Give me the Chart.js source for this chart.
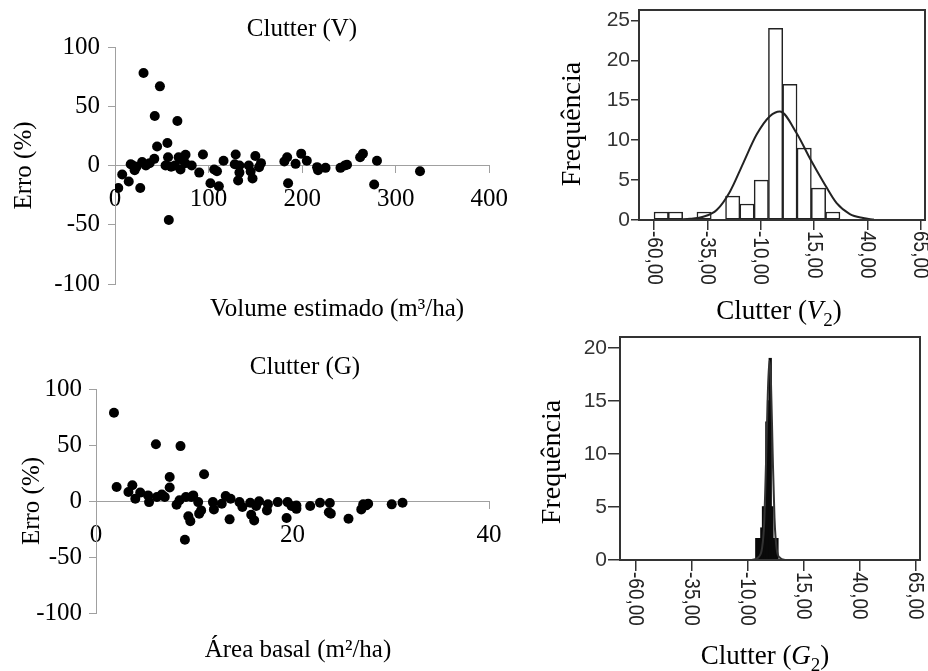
<!DOCTYPE html>
<html>
<head>
<meta charset="utf-8">
<script src="https://cdn.jsdelivr.net/npm/chart.js@4.4.1/dist/chart.umd.min.js"></script>
<style>
  html, body { margin: 0; padding: 0; background: #fff; }
  #wrap { position: relative; width: 928px; height: 671px; overflow: hidden; }
  canvas { position: absolute; }
</style>
</head>
<body>
<div id="wrap">
  <canvas id="scV" width="520" height="330" style="left:0;top:0"></canvas>
  <canvas id="scG" width="520" height="341" style="left:0;top:330px"></canvas>
  <canvas id="hiV" width="408" height="335" style="left:520px;top:0"></canvas>
  <canvas id="hiG" width="408" height="336" style="left:520px;top:335px"></canvas>
</div>
<script>
// Clutter (V): volume estimado x erro
const volEst = [3.5, 7.7, 14.7, 16.8, 19, 21, 23, 27, 30.5, 29, 33, 37, 42, 42.5, 45, 48, 54, 56, 56.7, 57.5,
  60, 64, 66.7, 68, 70, 71, 75.4, 75, 82, 90, 94, 102, 106, 109, 111, 116, 129, 128, 131.6, 133,
  133, 143, 145, 147, 150, 154, 156, 181, 184, 185, 193, 199, 205, 216, 217, 225, 241, 245.6, 248, 262,
  265, 277, 280, 326];
const erroV = [-19, -7.6, -13.5, 1, 0, -4, -1, -19, 78, 3, 0, 2, 5.6, 41.7, 16, 66.8, 0, 19, 7, -46,
  -1, 0, 37.5, 7, -3.4, 5, 9, 2, 0, -6, 9.3, -15, -3.4, -4.8, -17.5, 4, 9.3, 1, -12.7, 0,
  -6, 0, -5, -11, 8, -1.4, 2, 3.4, 7, -15, 1.4, 10, 4, -1.4, -4, -2, -2, 0, 0.6, 7,
  10, -16, 4, -4.8];

// Clutter (G): area basal x erro
const areaBasal = [1.83, 2.1, 3.3, 3.7, 4.0, 4.5, 5.3, 5.4, 6.1, 6.2, 6.7, 7.0, 7.5, 7.5, 8.2, 8.5, 8.6, 9.05, 9.15, 9.4,
  9.6, 9.7, 9.9, 10.4, 10.5, 10.7, 11.0, 11.9, 12.0, 12.8, 13.2, 13.6, 13.7, 14.6, 14.9, 15.7, 15.8, 16.1, 16.3, 16.6,
  17.4, 17.5, 18.5, 19.5, 19.4, 19.9, 20.4, 20.4, 21.8, 22.8, 23.7, 23.8, 23.9, 25.7, 27.0, 27.2, 27.5, 27.7, 30.1, 31.2];
const erroG = [78.8, 12.5, 8, 14, 2, 7.5, 5, -1, 50.7, 3.6, 5.7, 3.6, 21.5, 12, -3.3, 0.6, 49, -34.6, 3.6, -13.7,
  -18, 3.6, 5, -1, -11.3, -8.4, 23.9, -1, -7.5, -2.4, 4.5, -16.4, 2, -1, -5.4, -1.5, -12.2, -17.3, -4.5, -0.3,
  -8.4, -3, -1, -1, -15.2, -4.5, -7, -4, -4.5, -1.5, -10, -1.8, -11.3, -15.8, -7.5, -3, -3.9, -2.4, -3, -1.5];

// histograma V2 (centro da classe, frequencia) + curva normal
const classesV = [-56.6, -49.9, -43.2, -36.5, -29.8, -23.1, -16.4, -9.7, -3.0, 3.7, 10.4, 17.1, 23.8];
const freqV = [1, 1, 0, 1, 0, 3, 2, 5, 24, 17, 9, 4, 1];
const curveVx = [-48, -43, -36.9, -30.6, -24.4, -18.2, -11.9, -5.7, -1.0, 6.8, 13.1, 19.3, 25.6, 31.8, 38, 43];
const curveVy = [0.05, 0.15, 0.4, 1.25, 3.55, 7.1, 10.7, 13.0, 13.6, 10.9, 7.7, 4.8, 2.1, 0.75, 0.25, 0.05];

// histograma G2
const classesG = [-5.9, -5.15, -4.4, -3.65, -2.9, -2.15, -1.4, -0.65, 0.1, 0.85, 1.6, 2.35, 3.1];
const freqG = [2, 2, 2, 3, 5, 5, 13, 15, 19, 5, 2, 2, 2];
const curveGx = [-8, -5, -3.5, -2.6, -1.8, -1, -0.3, 0.4, 1.2, 2, 3, 4.5, 7];
const curveGy = [0, 0.3, 1.2, 3.5, 9, 15.5, 18.8, 17, 10, 4, 1, 0.2, 0];

const histTicks = [-60, -35, -10, 15, 40, 65];
const histTickLabels = ['-60,00', '-35,00', '-10,00', '15,00', '40,00', '65,00'];

const SERIF = "'Liberation Serif', 'Times New Roman', serif";
const SANS = "'Liberation Sans', Arial, sans-serif";
const AXIS = '#a0a0a0';

// textos soltos (titulos, eixos com italico/subscrito)
function notes(items) {
  return {
    id: 'notes',
    afterDraw(chart) {
      const ctx = chart.ctx;
      items.forEach(it => {
        const parts = it.parts || [{ t: it.text }];
        ctx.save();
        ctx.translate(it.x, it.y);
        if (it.rotate) ctx.rotate(it.rotate);
        ctx.fillStyle = '#000';
        ctx.textBaseline = 'alphabetic';
        const fonts = parts.map(p => (p.italic ? 'italic ' : '') + Math.round(p.sub ? it.size * 0.7 : it.size) + 'px ' + SERIF);
        const widths = parts.map((p, i) => { ctx.font = fonts[i]; return ctx.measureText(p.t).width; });
        let x = -widths.reduce((a, b) => a + b, 0) / 2;
        parts.forEach((p, i) => {
          ctx.font = fonts[i];
          ctx.fillText(p.t, x, it.size * 0.35 + (p.sub ? it.size * 0.25 : 0));
          x += widths[i];
        });
        ctx.restore();
      });
    }
  };
}

const frame = {
  id: 'frame',
  afterDatasetsDraw(chart) {
    const { ctx, chartArea: a } = chart;
    ctx.save();
    ctx.strokeStyle = '#333';
    ctx.lineWidth = 2;
    ctx.strokeRect(a.left, a.top, a.right - a.left, a.bottom - a.top);
    ctx.restore();
  }
};

// rotulos do eixo x girados 90 graus (leitura de cima para baixo)
function rotatedTicks(top) {
  return {
    id: 'rotatedTicks',
    afterDraw(chart) {
      const ctx = chart.ctx, sx = chart.scales.x;
      ctx.save();
      ctx.font = '19px ' + SANS;
      ctx.fillStyle = '#222';
      ctx.textBaseline = 'middle';
      ctx.textAlign = 'left';
      histTicks.forEach((v, i) => {
        ctx.save();
        ctx.translate(sx.getPixelForValue(v), top);
        ctx.rotate(Math.PI / 2);
        ctx.scale(1, 1.2); // o original esta esticado na horizontal
        ctx.fillText(histTickLabels[i], 0, 0);
        ctx.restore();
      });
      ctx.restore();
    }
  };
}

function scatter(id, o) {
  const font = { family: SERIF, size: 25 };
  new Chart(document.getElementById(id), {
    type: 'scatter',
    data: {
      datasets: [{
        data: o.xs.map((x, i) => ({ x, y: o.ys[i] })),
        backgroundColor: '#000',
        borderWidth: 0,
        pointRadius: 5
      }]
    },
    options: {
      responsive: false,
      animation: false,
      events: [],
      layout: { padding: o.padding },
      plugins: { legend: { display: false }, tooltip: { enabled: false } },
      scales: {
        x: {
          type: 'linear', position: { y: 0 }, min: 0, max: o.xMax,
          ticks: { stepSize: o.xStep, padding: o.xPad, maxRotation: 0, color: '#000', font },
          grid: { drawOnChartArea: false, tickLength: 7, color: AXIS },
          border: { color: AXIS }
        },
        y: {
          min: -100, max: 100,
          afterFit: s => { s.width = o.yWidth; s.paddingTop = 0; s.paddingBottom = 0; },
          ticks: { stepSize: 50, padding: o.yPad, color: '#000', font },
          grid: { drawOnChartArea: false, tickLength: 7, color: AXIS },
          border: { color: AXIS },
          title: { display: true, text: 'Erro (%)', color: '#000', font, padding: { top: o.titlePad, bottom: 0 } }
        }
      }
    },
    plugins: [notes(o.notes)]
  });
}

function histogram(id, o) {
  new Chart(document.getElementById(id), {
    type: 'bar',
    data: {
      datasets: [
        {
          type: 'line',
          data: o.curveX.map((x, i) => ({ x, y: o.curveY[i] })),
          borderColor: o.curveColor, borderWidth: 2, pointRadius: 0,
          cubicInterpolationMode: 'monotone', order: 0
        },
        {
          type: 'bar',
          data: o.classes.map((x, i) => ({ x, y: o.freq[i] })),
          backgroundColor: o.fill, borderColor: o.edge, borderWidth: o.edgeWidth,
          inflateAmount: o.inflate, borderSkipped: false,
          barPercentage: 1, categoryPercentage: 1, order: 1
        }
      ]
    },
    options: {
      responsive: false,
      animation: false,
      events: [],
      layout: { padding: o.padding },
      plugins: { legend: { display: false }, tooltip: { enabled: false } },
      scales: {
        x: {
          type: 'linear', min: -67, max: 67, offset: false,
          afterBuildTicks: s => { s.ticks = histTicks.map(v => ({ value: v })); },
          afterFit: s => { s.height = o.xHeight; s.paddingLeft = 0; s.paddingRight = 0; },
          ticks: { callback: () => '', autoSkip: false },
          grid: { offset: false, drawOnChartArea: false, tickLength: o.xTick, color: '#333', lineWidth: 1.5 },
          border: { display: false }
        },
        y: {
          min: 0, max: o.yMax,
          afterBuildTicks: s => { s.ticks = o.yTicks.map(v => ({ value: v })); },
          afterFit: s => { s.width = o.yWidth; s.paddingTop = 0; s.paddingBottom = 0; },
          ticks: { font: { family: SANS, size: 21 }, color: '#333', padding: 1 },
          grid: { drawOnChartArea: false, tickLength: o.yTick, color: '#333', lineWidth: 1.5 },
          border: { display: false }
        }
      }
    },
    plugins: [frame, rotatedTicks(o.labelTop), notes(o.notes)]
  });
}

scatter('scV', {
  xs: volEst, ys: erroV, xMax: 400, xStep: 100, xPad: 12,
  yWidth: 115, yPad: 8, titlePad: 9,
  padding: { left: 0, right: 25, top: 47, bottom: 46 },
  notes: [
    { text: 'Clutter (V)', x: 302, y: 27, size: 25 },
    { text: 'Volume estimado (m³/ha)', x: 337, y: 307, size: 25 }
  ]
});

scatter('scG', {
  xs: areaBasal, ys: erroG, xMax: 40, xStep: 20, xPad: 12,
  yWidth: 96, yPad: 7, titlePad: 17,
  padding: { left: 0, right: 31, top: 59, bottom: 58 },
  notes: [
    { text: 'Clutter (G)', x: 305, y: 35, size: 25 },
    { text: 'Área basal (m²/ha)', x: 298, y: 318, size: 25 }
  ]
});

histogram('hiV', {
  classes: classesV, freq: freqV, curveX: curveVx, curveY: curveVy,
  fill: '#fff', edge: '#222', edgeWidth: 1.5, inflate: 'auto', curveColor: '#222',
  yMax: 26.3, yTicks: [0, 5, 10, 15, 20, 25], yWidth: 119, yTick: 8, xTick: 10, xHeight: 115,
  padding: { left: 0, right: 3, top: 10, bottom: 0 },
  labelTop: 231,
  notes: [
    { text: 'Frequência', x: 50, y: 124, size: 28, rotate: -Math.PI / 2 },
    { parts: [{ t: 'Clutter (' }, { t: 'V', italic: true }, { t: '2', sub: true }, { t: ')' }], x: 259, y: 310, size: 27 }
  ]
});

histogram('hiG', {
  classes: classesG, freq: freqG, curveX: curveGx, curveY: curveGy,
  fill: '#0a0a0a', edge: '#0a0a0a', edgeWidth: 0, inflate: 0.8, curveColor: '#333',
  yMax: 21.05, yTicks: [0, 5, 10, 15, 20], yWidth: 100, yTick: 12, xTick: 11, xHeight: 111,
  padding: { left: 0, right: 8, top: 2, bottom: 0 },
  labelTop: 237,
  notes: [
    { text: 'Frequência', x: 30, y: 127, size: 28, rotate: -Math.PI / 2 },
    { parts: [{ t: 'Clutter (' }, { t: 'G', italic: true }, { t: '2', sub: true }, { t: ')' }], x: 245, y: 320, size: 27 }
  ]
});
</script>
</body>
</html>
